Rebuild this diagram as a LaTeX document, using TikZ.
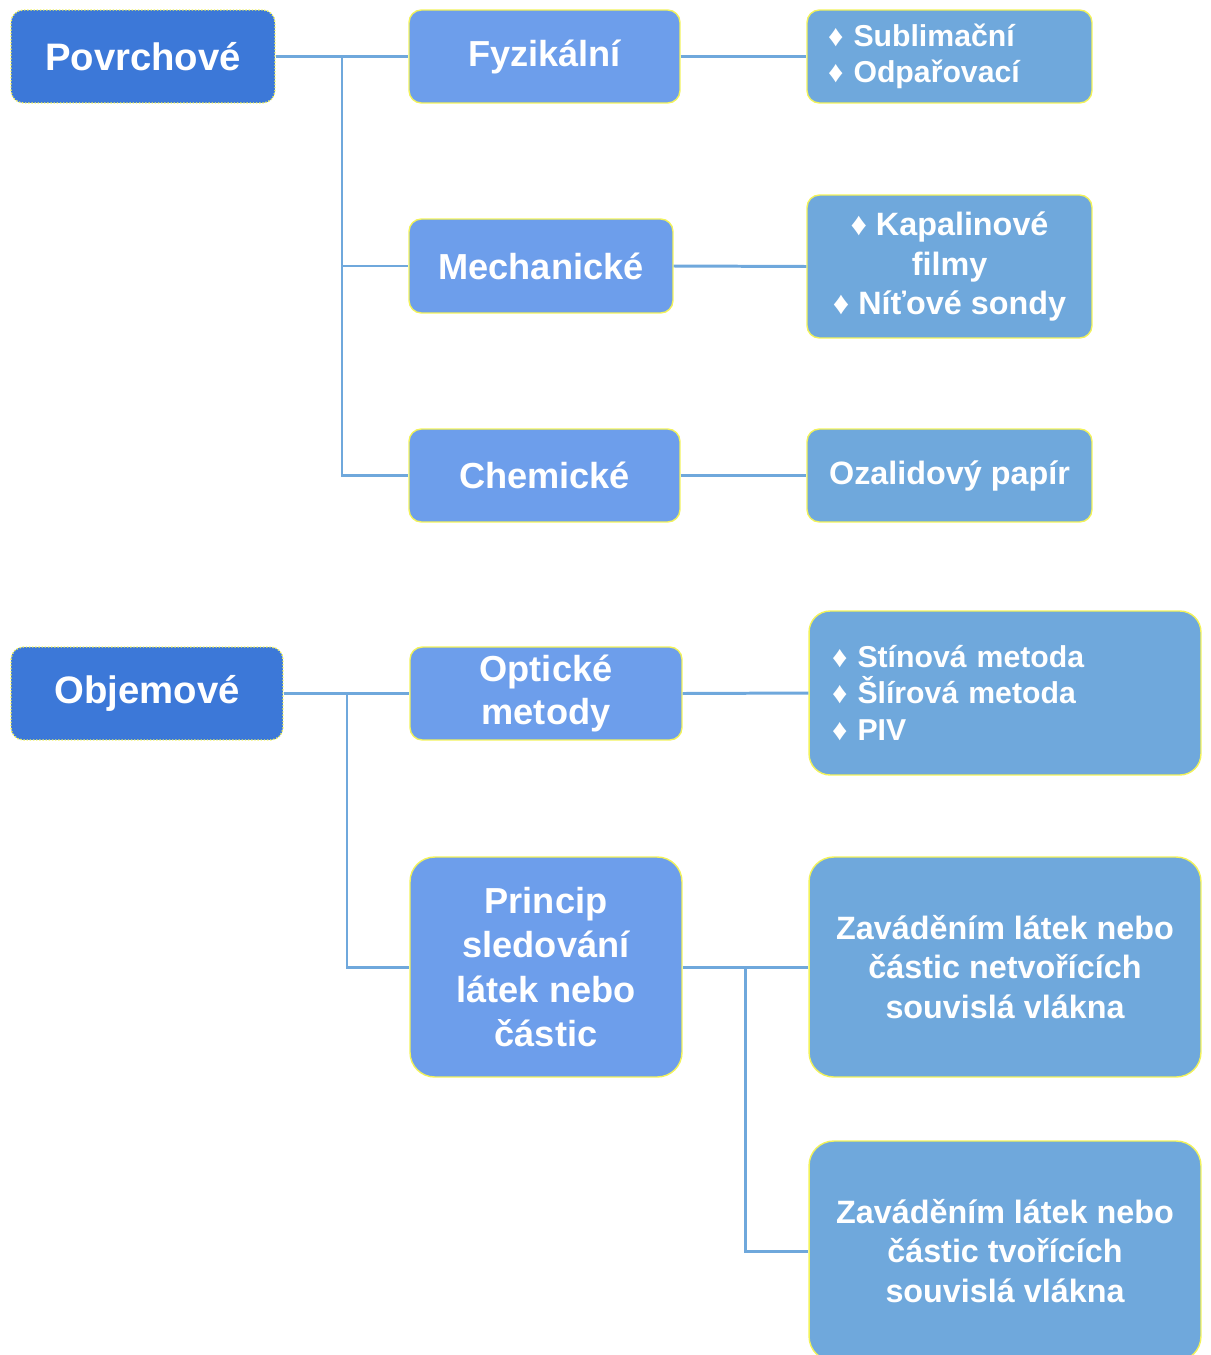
\documentclass[tikz,border=0pt]{standalone}
\usepackage{fontspec}
\setmainfont{Liberation Sans}
\definecolor{rootblue}{HTML}{3C78D8}
\definecolor{midblue}{HTML}{6D9EEB}
\definecolor{leafblue}{HTML}{6FA8DC}
\definecolor{linkblue}{HTML}{6FA8DC}
\definecolor{rim}{HTML}{F2F25A}
\newcommand{\bul}{\char"2666\ }
\begin{document}
\begin{tikzpicture}[x=0.02cm,y=-0.02cm,
	box/.style={rectangle,rounded corners=7pt,draw=rim,line width=0.8pt,
		text=white,align=center,inner sep=2pt},
	rootbox/.style={box,fill=rootblue,densely dotted,
		font=\fontsize{21.8pt}{26pt}\selectfont\bfseries},
	midbox/.style={box,fill=midblue,
		font=\fontsize{20.6pt}{25.2pt}\selectfont\bfseries},
	leafbox/.style={box,fill=leafblue,
		font=\fontsize{18.4pt}{22.7pt}\selectfont\bfseries},
	listbox/.style={box,fill=leafblue,align=left,
		font=\fontsize{17.2pt}{20.8pt}\selectfont\bfseries},
	link/.style={draw=linkblue,line width=1.7pt}]
	\useasboundingbox (0,0) rectangle (1210,1355);
	% upper tree
	\node (pov) at (143,56.5) [rootbox,minimum width=5.28cm,minimum height=1.86cm]{Povrchové};
	\node (fyz) at (544.5,56.5) [midbox,minimum width=5.42cm,minimum height=1.86cm]{Fyzikální};
	\node (mech) at (541,266) [midbox,minimum width=5.28cm,minimum height=1.88cm]{Mechanické};
	\node (chem) at (544.5,475.5) [midbox,minimum width=5.42cm,minimum height=1.86cm]{Chemické};
	\node (subl) at (949.5,56.5) [listbox,text width=4.86cm,minimum height=1.86cm,inner xsep=0.42cm]{\bul Sublimační\\\bul Odpařovací};
	\node (kap) at (949.5,266.5) [leafbox,minimum width=5.7cm,minimum height=2.86cm]{\bul Kapalinové\\filmy\\\bul Níťové sondy};
	\node (oza) at (949.5,475.5) [leafbox,minimum width=5.7cm,minimum height=1.86cm]{Ozalidový papír};
	% lower tree
	\node (obj) at (147,693.5) [rootbox,minimum width=5.44cm,minimum height=1.86cm]{Objemové};
	\node (opt) at (546,693.5) [midbox,minimum width=5.44cm,minimum height=1.86cm]{Optické\\[-1pt]metody};
	\node (pri) at (546,967) [midbox,rounded corners=14pt,minimum width=5.44cm,minimum height=4.4cm]{Princip\\sledování\\látek nebo\\částic};
	\node (sti) at (1005,693) [listbox,rounded corners=12pt,text width=6.92cm,minimum height=3.28cm,inner xsep=0.46cm]{\bul Stínová metoda\\\bul Šlírová metoda\\\bul PIV};
	\node (net) at (1005,967) [leafbox,rounded corners=14pt,minimum width=7.84cm,minimum height=4.4cm]{Zaváděním látek nebo\\částic netvořících\\souvislá vlákna};
	\node (tvo) at (1005,1251) [leafbox,rounded corners=14pt,minimum width=7.84cm,minimum height=4.4cm]{Zaváděním látek nebo\\částic tvořících\\souvislá vlákna};

	\coordinate (pj) at (342,56.5);
	\coordinate (oj) at (347,693.5);
	\coordinate (prj) at (745,967);

	\draw[link] (pov.east) -- (fyz.west);
	\draw[link] (pj) |- (mech.west);
	\draw[link] (pj) |- (chem.west);
	\draw[link] (fyz.east) -- (subl.west);
	\draw[link] (mech.east) -- (kap.west);
	\draw[link] (chem.east) -- (oza.west);
	\draw[link] (obj.east) -- (opt.west);
	\draw[link] (oj) |- (pri.west);
	\draw[link] (opt.east) -- (sti.west);
	\draw[link] (pri.east) -- (net.west);
	\draw[link] (prj) |- (tvo.west);
\end{tikzpicture}
\end{document}
